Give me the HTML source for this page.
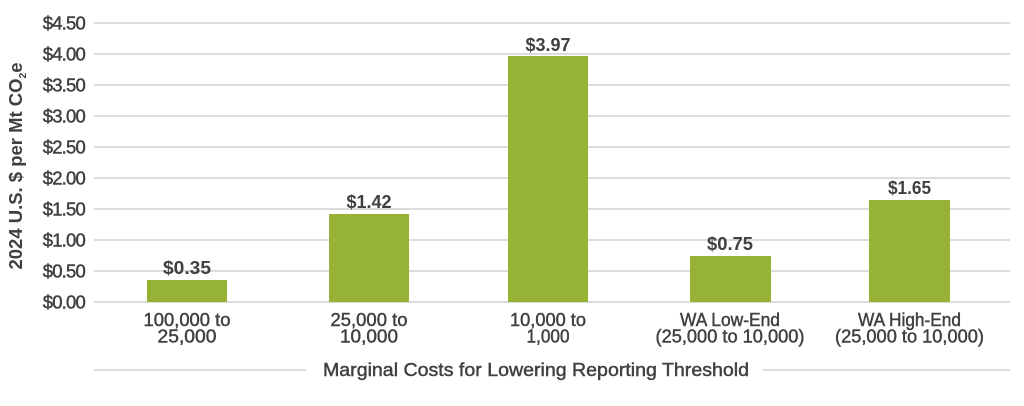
<!DOCTYPE html>
<html><head><meta charset="utf-8"><style>
html,body{margin:0;padding:0;background:#fff;}
svg{display:block;}
text{font-family:"Liberation Sans",sans-serif;fill:#404040;}
.med{stroke:#404040;stroke-width:0.45;}
</style></head><body>
<svg width="1024" height="406" viewBox="0 0 1024 406" xmlns="http://www.w3.org/2000/svg">
<g stroke="#dcdcdc" stroke-width="2">
<line x1="94" y1="23" x2="1010" y2="23"/>
<line x1="94" y1="54" x2="1010" y2="54"/>
<line x1="94" y1="85" x2="1010" y2="85"/>
<line x1="94" y1="116" x2="1010" y2="116"/>
<line x1="94" y1="147" x2="1010" y2="147"/>
<line x1="94" y1="178" x2="1010" y2="178"/>
<line x1="94" y1="209" x2="1010" y2="209"/>
<line x1="94" y1="240" x2="1010" y2="240"/>
<line x1="94" y1="271" x2="1010" y2="271"/>
<line x1="94" y1="302" x2="1010" y2="302"/>
<line x1="94" y1="370" x2="306" y2="370"/>
<line x1="763" y1="370" x2="1010" y2="370"/>
</g>
<g font-size="18.5" text-anchor="end" letter-spacing="-0.8" class="med">
<text x="85" y="29.5">$4.50</text>
<text x="85" y="60.5">$4.00</text>
<text x="85" y="91.5">$3.50</text>
<text x="85" y="122.5">$3.00</text>
<text x="85" y="153.5">$2.50</text>
<text x="85" y="184.5">$2.00</text>
<text x="85" y="215.5">$1.50</text>
<text x="85" y="246.5">$1.00</text>
<text x="85" y="277.5">$0.50</text>
<text x="85" y="308.5">$0.00</text>
</g>
<g fill="#96b335">
<rect x="147" y="280" width="80" height="22"/>
<rect x="329" y="214" width="80" height="88"/>
<rect x="508" y="56" width="80" height="246"/>
<rect x="690" y="256" width="81" height="46"/>
<rect x="869" y="200" width="81" height="102"/>
</g>
<g font-size="18.5" text-anchor="middle" font-weight="bold">
<text x="187" y="274" textLength="48" lengthAdjust="spacingAndGlyphs">$0.35</text>
<text x="369" y="208" textLength="45" lengthAdjust="spacingAndGlyphs">$1.42</text>
<text x="548" y="51" textLength="45" lengthAdjust="spacingAndGlyphs">$3.97</text>
<text x="730" y="250" textLength="46" lengthAdjust="spacingAndGlyphs">$0.75</text>
<text x="909.5" y="194" textLength="43" lengthAdjust="spacingAndGlyphs">$1.65</text>
</g>
<g font-size="18" text-anchor="middle" class="med">
<text x="187" y="326" textLength="87" lengthAdjust="spacingAndGlyphs">100,000 to</text>
<text x="187" y="342.5" textLength="59" lengthAdjust="spacingAndGlyphs">25,000</text>
<text x="369" y="326" textLength="77" lengthAdjust="spacingAndGlyphs">25,000 to</text>
<text x="369" y="342.5" textLength="58" lengthAdjust="spacingAndGlyphs">10,000</text>
<text x="548" y="326" textLength="76" lengthAdjust="spacingAndGlyphs">10,000 to</text>
<text x="548" y="342.5" textLength="43" lengthAdjust="spacingAndGlyphs">1,000</text>
<text x="730" y="326" textLength="100" lengthAdjust="spacingAndGlyphs">WA Low-End</text>
<text x="730" y="342.5" textLength="149" lengthAdjust="spacingAndGlyphs">(25,000 to 10,000)</text>
<text x="909.5" y="326" textLength="103" lengthAdjust="spacingAndGlyphs">WA High-End</text>
<text x="909.5" y="342.5" textLength="149" lengthAdjust="spacingAndGlyphs">(25,000 to 10,000)</text>
</g>
<text x="536" y="376" font-size="18" text-anchor="middle" class="med" textLength="426" lengthAdjust="spacingAndGlyphs">Marginal Costs for Lowering Reporting Threshold</text>
<text transform="translate(22,166) rotate(-90)" font-size="18" font-weight="bold" text-anchor="middle" textLength="207" lengthAdjust="spacingAndGlyphs">2024 U.S. $ per Mt CO<tspan font-size="10" dy="4">2</tspan><tspan dy="-4">e</tspan></text>
</svg>
</body></html>
